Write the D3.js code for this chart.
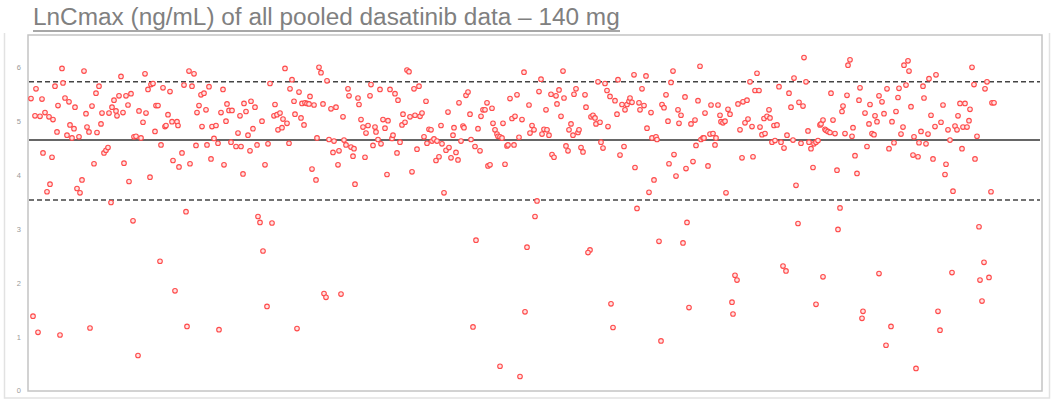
<!DOCTYPE html>
<html>
<head>
<meta charset="utf-8">
<script src="https://cdn.jsdelivr.net/npm/d3@7"></script>
<style>
  html, body { margin: 0; padding: 0; background: #ffffff; }
  svg { display: block; }
</style>
</head>
<body>
<svg id="chart" width="1056" height="400"></svg>
<script>
// ---- Data ----
const titleText = "LnCmax (ng/mL) of all pooled dasatinib data \u2013 140 mg";
const yTicks = [0, 1, 2, 3, 4, 5, 6];
const meanLine = 4.65;
const upperLine = 5.73;
const lowerLine = 3.535;

// subject order index and LnCmax value, pairwise
const subject = [
3,8,7,12,14,17,21,25,27,29,30,34,35,37,41,42,39,44,46,47,51,56,58,59,61,64,68,71,69,73,74,81,84,86,88,89,91,93,95,98,100,103,106,108,111,113,115,117,118,120,123,125,128,130,127,135,137,138,140,142,144,149,150,15,24,22,19,49,52,54,66,76,78,80,83,96,101,122,133,145,151,
5,10,32,62,105,110,132,147,
154,156,161,164,166,162,168,169,171,173,174,176,178,179,181,183,184,186,188,190,193,195,196,198,199,201,203,204,208,210,212,213,215,216,218,220,222,223,225,227,229,234,237,240,242,246,247,249,250,252,254,255,257,259,261,262,264,266,267,271,273,274,276,277,279,281,282,284,286,288,289,291,293,295,299,301,303,305,306,308,310,311,315,316,318,320,321,323,325,326,327,158,
230,232,244,235,239,296,298,313,159,191,269,
330,331,333,335,337,338,340,342,343,345,347,348,350,352,353,355,357,359,360,362,364,365,367,369,370,372,374,375,377,379,381,382,384,386,387,389,391,392,394,396,398,399,401,403,404,406,408,409,411,413,414,416,418,420,421,423,425,426,428,430,431,433,435,436,438,440,442,443,447,450,452,453,455,457,459,460,462,464,465,467,469,470,472,474,475,477,479,480,482,484,486,487,489,491,494,496,501,502,
448,499,497,445,472,492,
504,506,509,511,513,514,516,518,519,521,523,524,526,528,529,531,533,535,536,538,540,541,543,545,546,548,550,551,553,555,557,558,563,565,567,568,570,572,573,575,577,579,580,582,587,589,590,592,594,596,597,599,601,602,604,606,607,609,611,612,614,616,618,619,621,623,624,626,628,629,634,636,638,640,641,643,645,646,648,650,651,653,657,658,663,665,667,668,670,672,673,675,677,
507,659,631,655,562,560,583,661,585,633,
676,680,682,683,685,687,688,690,692,693,695,697,698,700,702,710,712,714,715,717,719,720,722,724,725,727,729,731,732,734,736,737,739,741,742,744,746,747,749,751,753,756,759,761,763,765,766,768,771,773,775,776,778,780,781,783,785,786,788,790,792,793,795,797,798,800,802,803,805,807,809,814,815,817,819,820,822,824,825,827,829,831,832,837,839,841,842,844,846,847,849,851,812,
770,810,707,709,755,758,795,851,704,705,788,835,834,
951,956,924,952,961,954,910,863,912,858,888,
854,856,859,861,864,866,868,870,871,873,875,876,878,880,881,883,885,886,890,891,893,895,896,898,900,901,903,905,907,908,913,915,917,918,920,922,925,927,929,930,932,934,935,937,939,941,942,944,946,947,949,957,959,963,964,966
];
const lnCmax = [
5.42,5.60,5.10,5.09,5.41,5.16,5.08,5.03,5.65,4.80,5.29,5.98,5.71,5.43,5.36,4.93,4.74,4.69,4.86,5.26,4.71,5.93,5.14,4.89,4.80,5.28,5.52,5.65,4.79,4.95,5.15,5.15,5.26,5.39,5.19,5.10,5.47,5.83,5.16,5.47,5.30,5.51,4.71,4.72,5.19,4.69,4.98,5.88,5.15,5.59,5.68,5.70,5.29,5.29,4.81,5.62,4.90,4.92,5.12,5.55,4.99,4.99,4.92,4.41,4.33,3.83,3.69,3.75,3.67,3.91,4.21,4.41,4.46,4.51,3.49,4.22,3.88,3.96,4.56,4.27,4.15,
1.38,1.08,1.03,1.16,3.15,0.65,2.40,1.85,
4.41,5.67,5.93,5.65,5.88,4.21,4.55,5.16,5.29,5.49,4.90,5.52,5.21,4.56,5.64,4.30,4.90,4.68,4.92,4.59,5.16,5.59,4.19,5.00,5.32,5.20,4.61,5.20,4.53,4.78,5.10,4.53,4.02,5.33,5.18,4.74,4.45,5.37,4.86,5.26,4.56,5.00,4.19,4.58,5.70,5.10,5.31,5.12,4.84,5.15,4.88,5.04,5.98,4.96,4.59,5.60,5.77,5.37,5.13,5.54,5.06,5.33,4.93,5.34,5.33,5.32,5.46,4.11,5.30,3.91,4.69,6.00,5.90,5.32,5.75,4.66,5.23,4.42,4.63,5.26,4.19,4.45,5.08,4.65,4.56,5.60,5.47,4.52,4.35,4.49,3.83,3.32,
3.23,3.12,3.11,2.59,1.56,1.80,1.73,1.79,1.19,1.13,1.15,
5.43,5.31,5.03,4.89,4.33,4.78,4.92,5.47,5.68,4.55,4.89,4.80,4.66,5.59,4.58,5.03,4.87,4.01,5.01,5.59,4.68,4.74,5.51,4.41,5.39,4.61,4.93,5.13,4.98,5.95,5.92,5.08,4.06,5.60,5.11,4.48,5.65,5.09,5.15,4.71,5.37,4.59,4.85,4.84,4.63,4.67,4.27,4.63,4.34,4.92,4.58,3.67,4.46,5.17,4.51,4.32,4.74,4.88,4.42,4.28,5.34,4.63,4.91,4.88,5.48,5.54,5.13,4.66,4.53,4.86,4.45,5.09,5.21,5.21,5.34,4.17,4.19,5.24,4.96,4.84,4.76,4.72,4.71,4.69,4.96,4.20,4.54,4.56,5.42,5.05,4.56,5.09,5.49,4.70,5.03,5.91,5.30,4.78,
2.79,2.66,1.46,1.18,0.45,0.26,
4.92,4.84,3.52,5.55,5.78,4.76,4.85,5.21,4.84,4.74,5.50,4.38,4.33,5.47,5.32,5.58,5.09,5.93,5.43,4.54,4.45,4.84,4.95,4.74,5.50,5.60,4.79,4.84,4.51,4.43,5.49,5.26,5.08,5.11,5.06,4.95,5.73,4.98,4.61,4.50,5.70,5.57,4.90,5.46,5.38,5.13,5.77,4.37,5.31,4.53,5.21,5.31,5.37,5.43,5.35,5.86,4.14,3.38,5.34,5.21,5.60,5.29,5.84,4.87,3.68,5.16,4.69,3.91,4.71,4.66,5.31,5.25,5.49,5.00,4.21,5.72,5.93,4.38,3.98,5.21,4.96,5.11,5.45,4.12,4.95,4.25,5.02,4.55,5.38,6.02,4.66,4.69,5.15,
3.23,3.12,2.77,2.74,2.61,2.56,1.61,1.54,1.17,0.92,
4.69,4.17,4.76,5.30,4.77,4.56,4.69,5.30,5.11,4.99,4.97,5.00,3.67,5.22,5.13,5.32,4.84,4.32,5.36,4.97,5.39,5.04,5.73,4.90,4.34,5.57,5.89,5.57,4.89,4.75,5.05,4.77,5.09,5.21,5.06,4.61,4.92,4.64,4.93,5.64,4.61,4.50,4.74,5.52,5.26,4.65,5.80,3.81,5.35,4.59,5.28,6.18,5.73,4.82,4.61,4.49,4.14,4.58,4.61,4.64,4.93,4.95,5.02,4.85,4.83,4.81,4.79,5.52,5.02,4.77,4.09,5.18,5.28,4.77,5.48,6.04,6.14,4.72,4.88,4.36,4.03,5.39,5.62,5.15,4.53,4.95,5.31,4.77,4.75,5.10,4.99,5.47,3.39,
3.10,2.99,2.14,2.05,2.31,2.22,2.11,2.17,1.64,1.42,1.60,1.47,1.34,
3.04,2.38,2.19,2.05,2.10,1.66,1.47,1.19,1.12,0.84,0.41,
5.36,5.14,5.60,4.49,4.99,4.60,5.18,5.44,5.61,4.76,4.89,6.04,5.67,6.12,5.93,5.27,4.37,4.71,4.34,4.60,4.81,5.65,5.43,4.58,4.76,5.79,5.11,4.30,4.90,5.86,4.98,5.30,4.01,4.20,4.84,4.65,3.70,4.91,4.84,5.10,5.33,4.49,4.89,5.33,4.89,5.01,5.22,6.00,5.68,4.30,4.72,5.60,5.73,3.69,5.34,5.34
];
const points = subject.map((s, i) => ({ s: s, v: lnCmax[i] }));

// ---- Layout ----
const svg = d3.select("#chart");
const plot = { left: 28, right: 1042, top: 35, bottom: 391 };

const x = d3.scaleLinear().domain([0, 1014]).range([plot.left, plot.right]);
const y = d3.scaleLinear().domain([0, 6.6]).range([390.5, plot.top]);

// outer slide frame (left, right and bottom edges)
svg.append("path")
  .attr("d", "M4.5,33 V398 H1049.5 V33")
  .attr("fill", "none").attr("stroke", "#e2e2e2").attr("stroke-width", 1.5);

// title
const title = svg.append("text")
  .attr("x", 33).attr("y", 25)
  .attr("font-family", "'Liberation Sans', Arial, sans-serif")
  .attr("font-size", 20)
  .attr("fill", "#808080")
  .text(titleText);
const tw = title.node().getComputedTextLength();
title.attr("font-size", 20 * 587 / tw);
svg.append("line")
  .attr("x1", 33).attr("x2", 620).attr("y1", 31).attr("y2", 31)
  .attr("stroke", "#8a8a8a").attr("stroke-width", 1.5);

// plot frame
svg.append("rect")
  .attr("x", plot.left).attr("y", plot.top)
  .attr("width", plot.right - plot.left).attr("height", plot.bottom - plot.top)
  .attr("fill", "#ffffff").attr("stroke", "#c4c4c4").attr("stroke-width", 1.5);

// y axis labels
const yAxis = d3.axisLeft(y).tickValues(yTicks).tickSize(0).tickPadding(0).tickFormat(d3.format("d"));
const gy = svg.append("g").attr("transform", "translate(21,0)").call(yAxis);
gy.select(".domain").remove();
gy.selectAll("text")
  .attr("font-family", "'Liberation Sans', Arial, sans-serif")
  .attr("font-size", 7.5)
  .attr("fill", "#9a9a9a");

// reference lines
const refLines = [
  { v: upperLine, dash: "5,3", color: "#444" },
  { v: meanLine, dash: null, color: "#333" },
  { v: lowerLine, dash: "5,3", color: "#444" }
];
svg.selectAll("line.ref").data(refLines).enter().append("line")
  .attr("class", "ref")
  .attr("x1", plot.left + 1).attr("x2", plot.right - 2)
  .attr("y1", d => y(d.v)).attr("y2", d => y(d.v))
  .attr("stroke", d => d.color)
  .attr("stroke-width", 1.5)
  .attr("stroke-dasharray", d => d.dash);

// points
svg.append("g").selectAll("circle").data(points).enter().append("circle")
  .attr("cx", d => x(d.s))
  .attr("cy", d => y(d.v))
  .attr("r", 2.3)
  .attr("fill", "#ffe3e3")
  .attr("stroke", "#ff4a4a")
  .attr("stroke-width", 1.1);
</script>
</body>
</html>
